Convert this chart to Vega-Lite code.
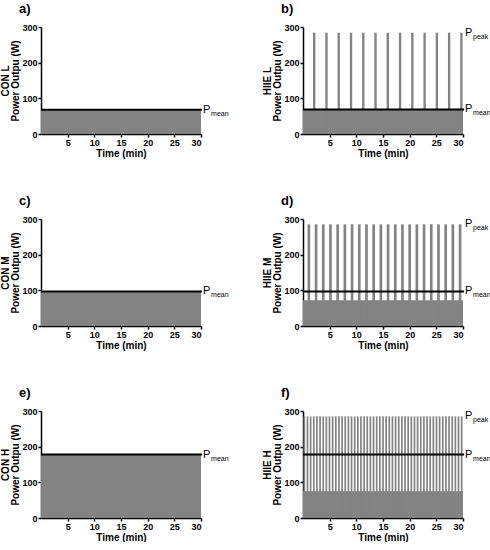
{
  "$schema": "https://vega.github.io/schema/vega-lite/v6.json",
  "padding": {"left": 0, "top": 3, "right": 0, "bottom": 0},
  "spacing": 37,
  "datasets": {
    "d": [
      {"p":"a","k":"bar","s":0,"e":30,"v":68},
      {"p":"a","k":"mean","s":0,"e":30.2,"v":68},
      {"p":"a","k":"lab","t":"mean","s":30.2,"v":68},

      {"p":"b","k":"bar","s":0,"e":30,"v":67},
      {"p":"b","k":"bar","s":1.88,"e":2.32,"v":284},
      {"p":"b","k":"bar","s":4.18,"e":4.62,"v":284},
      {"p":"b","k":"bar","s":6.48,"e":6.92,"v":284},
      {"p":"b","k":"bar","s":8.78,"e":9.22,"v":284},
      {"p":"b","k":"bar","s":11.08,"e":11.52,"v":284},
      {"p":"b","k":"bar","s":13.38,"e":13.82,"v":284},
      {"p":"b","k":"bar","s":15.68,"e":16.12,"v":284},
      {"p":"b","k":"bar","s":17.98,"e":18.42,"v":284},
      {"p":"b","k":"bar","s":20.28,"e":20.72,"v":284},
      {"p":"b","k":"bar","s":22.58,"e":23.02,"v":284},
      {"p":"b","k":"bar","s":24.88,"e":25.32,"v":284},
      {"p":"b","k":"bar","s":27.18,"e":27.62,"v":284},
      {"p":"b","k":"bar","s":29.48,"e":29.92,"v":284},
      {"p":"b","k":"mean","s":0,"e":30.2,"v":69},
      {"p":"b","k":"lab","t":"mean","s":30.2,"v":69},
      {"p":"b","k":"lab","t":"peak","s":30.2,"v":284},

      {"p":"c","k":"bar","s":0,"e":30,"v":97},
      {"p":"c","k":"mean","s":0,"e":30.2,"v":97},
      {"p":"c","k":"lab","t":"mean","s":30.2,"v":97},

      {"p":"d","k":"bar","s":0,"e":30,"v":72},
      {"p":"d","k":"bar","s":0.85,"e":1.35,"v":285},
      {"p":"d","k":"bar","s":2.2,"e":2.7,"v":285},
      {"p":"d","k":"bar","s":3.55,"e":4.05,"v":285},
      {"p":"d","k":"bar","s":4.9,"e":5.4,"v":285},
      {"p":"d","k":"bar","s":6.25,"e":6.75,"v":285},
      {"p":"d","k":"bar","s":7.6,"e":8.1,"v":285},
      {"p":"d","k":"bar","s":8.95,"e":9.45,"v":285},
      {"p":"d","k":"bar","s":10.3,"e":10.8,"v":285},
      {"p":"d","k":"bar","s":11.65,"e":12.15,"v":285},
      {"p":"d","k":"bar","s":13.0,"e":13.5,"v":285},
      {"p":"d","k":"bar","s":14.35,"e":14.85,"v":285},
      {"p":"d","k":"bar","s":15.7,"e":16.2,"v":285},
      {"p":"d","k":"bar","s":17.05,"e":17.55,"v":285},
      {"p":"d","k":"bar","s":18.4,"e":18.9,"v":285},
      {"p":"d","k":"bar","s":19.75,"e":20.25,"v":285},
      {"p":"d","k":"bar","s":21.1,"e":21.6,"v":285},
      {"p":"d","k":"bar","s":22.45,"e":22.95,"v":285},
      {"p":"d","k":"bar","s":23.8,"e":24.3,"v":285},
      {"p":"d","k":"bar","s":25.15,"e":25.65,"v":285},
      {"p":"d","k":"bar","s":26.5,"e":27.0,"v":285},
      {"p":"d","k":"bar","s":27.85,"e":28.35,"v":285},
      {"p":"d","k":"bar","s":29.2,"e":29.7,"v":285},
      {"p":"d","k":"mean","s":0,"e":30.2,"v":97},
      {"p":"d","k":"lab","t":"mean","s":30.2,"v":97},
      {"p":"d","k":"lab","t":"peak","s":30.2,"v":285},

      {"p":"e","k":"bar","s":0,"e":30,"v":178},
      {"p":"e","k":"mean","s":0,"e":30.2,"v":178},
      {"p":"e","k":"lab","t":"mean","s":30.2,"v":178},

      {"p":"f","k":"bar","s":0,"e":30,"v":75},
      {"p":"f","k":"bar","s":0.09,"e":0.41,"v":285},
      {"p":"f","k":"bar","s":0.68,"e":1.00,"v":285},
      {"p":"f","k":"bar","s":1.27,"e":1.59,"v":285},
      {"p":"f","k":"bar","s":1.86,"e":2.18,"v":285},
      {"p":"f","k":"bar","s":2.45,"e":2.77,"v":285},
      {"p":"f","k":"bar","s":3.04,"e":3.36,"v":285},
      {"p":"f","k":"bar","s":3.63,"e":3.95,"v":285},
      {"p":"f","k":"bar","s":4.22,"e":4.54,"v":285},
      {"p":"f","k":"bar","s":4.81,"e":5.13,"v":285},
      {"p":"f","k":"bar","s":5.40,"e":5.72,"v":285},
      {"p":"f","k":"bar","s":5.99,"e":6.31,"v":285},
      {"p":"f","k":"bar","s":6.58,"e":6.90,"v":285},
      {"p":"f","k":"bar","s":7.17,"e":7.49,"v":285},
      {"p":"f","k":"bar","s":7.76,"e":8.08,"v":285},
      {"p":"f","k":"bar","s":8.35,"e":8.67,"v":285},
      {"p":"f","k":"bar","s":8.94,"e":9.26,"v":285},
      {"p":"f","k":"bar","s":9.53,"e":9.85,"v":285},
      {"p":"f","k":"bar","s":10.12,"e":10.44,"v":285},
      {"p":"f","k":"bar","s":10.71,"e":11.03,"v":285},
      {"p":"f","k":"bar","s":11.30,"e":11.62,"v":285},
      {"p":"f","k":"bar","s":11.89,"e":12.21,"v":285},
      {"p":"f","k":"bar","s":12.48,"e":12.80,"v":285},
      {"p":"f","k":"bar","s":13.07,"e":13.39,"v":285},
      {"p":"f","k":"bar","s":13.66,"e":13.98,"v":285},
      {"p":"f","k":"bar","s":14.25,"e":14.57,"v":285},
      {"p":"f","k":"bar","s":14.84,"e":15.16,"v":285},
      {"p":"f","k":"bar","s":15.43,"e":15.75,"v":285},
      {"p":"f","k":"bar","s":16.02,"e":16.34,"v":285},
      {"p":"f","k":"bar","s":16.61,"e":16.93,"v":285},
      {"p":"f","k":"bar","s":17.20,"e":17.52,"v":285},
      {"p":"f","k":"bar","s":17.79,"e":18.11,"v":285},
      {"p":"f","k":"bar","s":18.38,"e":18.70,"v":285},
      {"p":"f","k":"bar","s":18.97,"e":19.29,"v":285},
      {"p":"f","k":"bar","s":19.56,"e":19.88,"v":285},
      {"p":"f","k":"bar","s":20.15,"e":20.47,"v":285},
      {"p":"f","k":"bar","s":20.74,"e":21.06,"v":285},
      {"p":"f","k":"bar","s":21.33,"e":21.65,"v":285},
      {"p":"f","k":"bar","s":21.92,"e":22.24,"v":285},
      {"p":"f","k":"bar","s":22.51,"e":22.83,"v":285},
      {"p":"f","k":"bar","s":23.10,"e":23.42,"v":285},
      {"p":"f","k":"bar","s":23.69,"e":24.01,"v":285},
      {"p":"f","k":"bar","s":24.28,"e":24.60,"v":285},
      {"p":"f","k":"bar","s":24.87,"e":25.19,"v":285},
      {"p":"f","k":"bar","s":25.46,"e":25.78,"v":285},
      {"p":"f","k":"bar","s":26.05,"e":26.37,"v":285},
      {"p":"f","k":"bar","s":26.64,"e":26.96,"v":285},
      {"p":"f","k":"bar","s":27.23,"e":27.55,"v":285},
      {"p":"f","k":"bar","s":27.82,"e":28.14,"v":285},
      {"p":"f","k":"bar","s":28.41,"e":28.73,"v":285},
      {"p":"f","k":"bar","s":29.00,"e":29.32,"v":285},
      {"p":"f","k":"bar","s":29.59,"e":29.91,"v":285},
      {"p":"f","k":"mean","s":0,"e":30.2,"v":178},
      {"p":"f","k":"lab","t":"mean","s":30.2,"v":178},
      {"p":"f","k":"lab","t":"peak","s":30.2,"v":285}
    ]
  },
  "vconcat": [
    {"hconcat": [
      {"title": "a)", "width": 160, "height": 107, "data": {"name": "d"},
       "transform": [{"filter": "datum.p=='a'"}],
       "encoding": {
         "x": {"field": "s", "type": "quantitative", "scale": {"domain": [0, 30], "nice": false}, "axis": {"title": "Time (min)", "values": [5, 10, 15, 20, 25, 30]}},
         "y": {"field": "v", "type": "quantitative", "scale": {"domain": [0, 300]}, "axis": {"title": ["CON L", "Power Outpu (W)"], "values": [0, 100, 200, 300]}}
       },
       "layer": [
         {"transform": [{"filter": "datum.k=='bar'"}], "mark": {"type": "rect", "fill": "#838383"}, "encoding": {"x2": {"field": "e"}, "y2": {"datum": 0}}},
         {"transform": [{"filter": "datum.k=='mean'"}], "mark": {"type": "rule", "stroke": "black", "strokeWidth": 2}, "encoding": {"x2": {"field": "e"}}},
         {"transform": [{"filter": "datum.k=='lab'"}], "mark": {"type": "text", "text": "P", "align": "left", "dx": 1, "fontSize": 11, "fill": "black"}, "encoding": {}},
         {"transform": [{"filter": "datum.k=='lab'"}], "mark": {"type": "text", "align": "left", "dx": 9, "dy": 4, "fontSize": 7, "fill": "black"}, "encoding": {"text": {"field": "t"}}}
       ]},
      {"title": "b)", "width": 160, "height": 107, "data": {"name": "d"},
       "transform": [{"filter": "datum.p=='b'"}],
       "encoding": {
         "x": {"field": "s", "type": "quantitative", "scale": {"domain": [0, 30], "nice": false}, "axis": {"title": "Time (min)", "values": [5, 10, 15, 20, 25, 30]}},
         "y": {"field": "v", "type": "quantitative", "scale": {"domain": [0, 300]}, "axis": {"title": ["HIIE L", "Power Outpu (W)"], "values": [0, 100, 200, 300]}}
       },
       "layer": [
         {"transform": [{"filter": "datum.k=='bar'"}], "mark": {"type": "rect", "fill": "#838383"}, "encoding": {"x2": {"field": "e"}, "y2": {"datum": 0}}},
         {"transform": [{"filter": "datum.k=='mean'"}], "mark": {"type": "rule", "stroke": "black", "strokeWidth": 2}, "encoding": {"x2": {"field": "e"}}},
         {"transform": [{"filter": "datum.k=='lab'"}], "mark": {"type": "text", "text": "P", "align": "left", "dx": 1, "fontSize": 11, "fill": "black"}, "encoding": {}},
         {"transform": [{"filter": "datum.k=='lab'"}], "mark": {"type": "text", "align": "left", "dx": 9, "dy": 4, "fontSize": 7, "fill": "black"}, "encoding": {"text": {"field": "t"}}}
       ]}
    ]},
    {"hconcat": [
      {"title": "c)", "width": 160, "height": 107, "data": {"name": "d"},
       "transform": [{"filter": "datum.p=='c'"}],
       "encoding": {
         "x": {"field": "s", "type": "quantitative", "scale": {"domain": [0, 30], "nice": false}, "axis": {"title": "Time (min)", "values": [5, 10, 15, 20, 25, 30]}},
         "y": {"field": "v", "type": "quantitative", "scale": {"domain": [0, 300]}, "axis": {"title": ["CON M", "Power Outpu (W)"], "values": [0, 100, 200, 300]}}
       },
       "layer": [
         {"transform": [{"filter": "datum.k=='bar'"}], "mark": {"type": "rect", "fill": "#838383"}, "encoding": {"x2": {"field": "e"}, "y2": {"datum": 0}}},
         {"transform": [{"filter": "datum.k=='mean'"}], "mark": {"type": "rule", "stroke": "black", "strokeWidth": 2}, "encoding": {"x2": {"field": "e"}}},
         {"transform": [{"filter": "datum.k=='lab'"}], "mark": {"type": "text", "text": "P", "align": "left", "dx": 1, "fontSize": 11, "fill": "black"}, "encoding": {}},
         {"transform": [{"filter": "datum.k=='lab'"}], "mark": {"type": "text", "align": "left", "dx": 9, "dy": 4, "fontSize": 7, "fill": "black"}, "encoding": {"text": {"field": "t"}}}
       ]},
      {"title": "d)", "width": 160, "height": 107, "data": {"name": "d"},
       "transform": [{"filter": "datum.p=='d'"}],
       "encoding": {
         "x": {"field": "s", "type": "quantitative", "scale": {"domain": [0, 30], "nice": false}, "axis": {"title": "Time (min)", "values": [5, 10, 15, 20, 25, 30]}},
         "y": {"field": "v", "type": "quantitative", "scale": {"domain": [0, 300]}, "axis": {"title": ["HIIE M", "Power Outpu (W)"], "values": [0, 100, 200, 300]}}
       },
       "layer": [
         {"transform": [{"filter": "datum.k=='bar'"}], "mark": {"type": "rect", "fill": "#838383"}, "encoding": {"x2": {"field": "e"}, "y2": {"datum": 0}}},
         {"transform": [{"filter": "datum.k=='mean'"}], "mark": {"type": "rule", "stroke": "black", "strokeWidth": 2}, "encoding": {"x2": {"field": "e"}}},
         {"transform": [{"filter": "datum.k=='lab'"}], "mark": {"type": "text", "text": "P", "align": "left", "dx": 1, "fontSize": 11, "fill": "black"}, "encoding": {}},
         {"transform": [{"filter": "datum.k=='lab'"}], "mark": {"type": "text", "align": "left", "dx": 9, "dy": 4, "fontSize": 7, "fill": "black"}, "encoding": {"text": {"field": "t"}}}
       ]}
    ]},
    {"hconcat": [
      {"title": "e)", "width": 160, "height": 107, "data": {"name": "d"},
       "transform": [{"filter": "datum.p=='e'"}],
       "encoding": {
         "x": {"field": "s", "type": "quantitative", "scale": {"domain": [0, 30], "nice": false}, "axis": {"title": "Time (min)", "values": [5, 10, 15, 20, 25, 30]}},
         "y": {"field": "v", "type": "quantitative", "scale": {"domain": [0, 300]}, "axis": {"title": ["CON H", "Power Outpu (W)"], "values": [0, 100, 200, 300]}}
       },
       "layer": [
         {"transform": [{"filter": "datum.k=='bar'"}], "mark": {"type": "rect", "fill": "#838383"}, "encoding": {"x2": {"field": "e"}, "y2": {"datum": 0}}},
         {"transform": [{"filter": "datum.k=='mean'"}], "mark": {"type": "rule", "stroke": "black", "strokeWidth": 2}, "encoding": {"x2": {"field": "e"}}},
         {"transform": [{"filter": "datum.k=='lab'"}], "mark": {"type": "text", "text": "P", "align": "left", "dx": 1, "fontSize": 11, "fill": "black"}, "encoding": {}},
         {"transform": [{"filter": "datum.k=='lab'"}], "mark": {"type": "text", "align": "left", "dx": 9, "dy": 4, "fontSize": 7, "fill": "black"}, "encoding": {"text": {"field": "t"}}}
       ]},
      {"title": "f)", "width": 160, "height": 107, "data": {"name": "d"},
       "transform": [{"filter": "datum.p=='f'"}],
       "encoding": {
         "x": {"field": "s", "type": "quantitative", "scale": {"domain": [0, 30], "nice": false}, "axis": {"title": "Time (min)", "values": [5, 10, 15, 20, 25, 30]}},
         "y": {"field": "v", "type": "quantitative", "scale": {"domain": [0, 300]}, "axis": {"title": ["HIIE H", "Power Outpu (W)"], "values": [0, 100, 200, 300]}}
       },
       "layer": [
         {"transform": [{"filter": "datum.k=='bar'"}], "mark": {"type": "rect", "fill": "#838383"}, "encoding": {"x2": {"field": "e"}, "y2": {"datum": 0}}},
         {"transform": [{"filter": "datum.k=='mean'"}], "mark": {"type": "rule", "stroke": "black", "strokeWidth": 2}, "encoding": {"x2": {"field": "e"}}},
         {"transform": [{"filter": "datum.k=='lab'"}], "mark": {"type": "text", "text": "P", "align": "left", "dx": 1, "fontSize": 11, "fill": "black"}, "encoding": {}},
         {"transform": [{"filter": "datum.k=='lab'"}], "mark": {"type": "text", "align": "left", "dx": 9, "dy": 4, "fontSize": 7, "fill": "black"}, "encoding": {"text": {"field": "t"}}}
       ]}
    ]}
  ],
  "config": {
    "font": "Liberation Sans",
    "view": {"stroke": null},
    "concat": {"spacing": 33},
    "axis": {
      "grid": false, "domainColor": "black", "domainWidth": 1.5, "tickColor": "black", "tickWidth": 1.5, "tickSize": 3,
      "labelColor": "black", "labelFont": "Liberation Sans", "labelFontWeight": "bold", "labelFontSize": 9, "labelPadding": 1,
      "titleColor": "black", "titleFont": "Liberation Sans", "titleFontWeight": "bold", "titleFontSize": 10, "titlePadding": 1, "titleLineHeight": 10
    },
    "title": {"anchor": "start", "frame": "group", "dx": -22, "fontSize": 13, "fontWeight": "bold", "color": "black", "offset": 7, "font": "Liberation Sans"}
  }
}
